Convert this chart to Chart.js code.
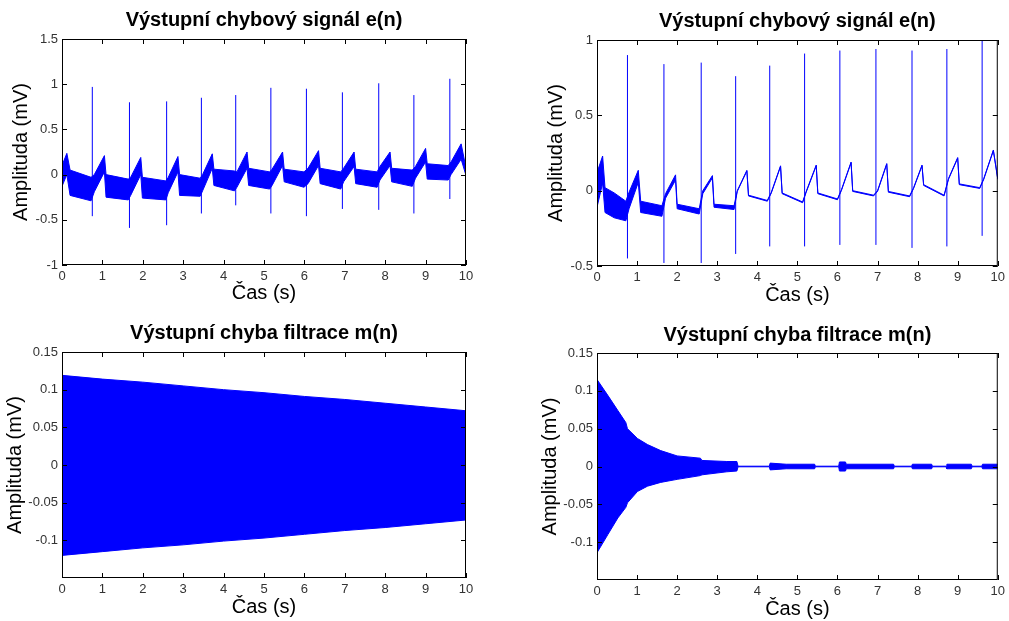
<!DOCTYPE html>
<html>
<head>
<meta charset="utf-8">
<script src="https://cdn.jsdelivr.net/npm/chart.js@4.4.0/dist/chart.umd.min.js"></script>
<style>
  body { margin: 0; background: #fff; overflow: hidden; }
  canvas { position: absolute; }
</style>
</head>
<body>
<canvas id="tl" width="504" height="310" style="left:0;top:0"></canvas>
<canvas id="tr" width="505" height="310" style="left:504px;top:0"></canvas>
<canvas id="bl" width="504" height="311" style="left:0;top:310px"></canvas>
<canvas id="br" width="505" height="311" style="left:504px;top:310px"></canvas>
<script>
// tick labels
var xTicks = [0, 1, 2, 3, 4, 5, 6, 7, 8, 9, 10];
var tlYTicks = [-1, -0.5, 0, 0.5, 1, 1.5];
var trYTicks = [-0.5, 0, 0.5, 1];
var mYTicks = [-0.1, -0.05, 0, 0.05, 0.1, 0.15];

// top left: e(n), noisy band + QRS spikes
var tlTime  = [0, 0.12, 0.20, 0.72, 0.80, 1.05, 1.09, 1.64, 1.70, 1.95, 1.99, 2.57, 2.63, 2.87, 2.91, 3.42, 3.48, 3.72, 3.76, 4.27, 4.33, 4.58, 4.62, 5.14, 5.20, 5.46, 5.50, 5.99, 6.09, 6.35, 6.39, 6.90, 6.97, 7.23, 7.27, 7.80, 7.87, 8.12, 8.16, 8.67, 8.75, 9.00, 9.04, 9.56, 9.63, 9.88, 10];
var tlUpper = [0.10, 0.235, 0.05, -0.03, 0.00, 0.21, 0.00, -0.05, -0.03, 0.19, -0.03, -0.07, -0.03, 0.20, 0.00, -0.04, 0.00, 0.23, 0.06, 0.04, 0.03, 0.25, 0.07, 0.03, 0.06, 0.25, 0.06, 0.03, 0.07, 0.265, 0.07, 0.03, 0.07, 0.25, 0.06, 0.03, 0.09, 0.25, 0.07, 0.05, 0.09, 0.29, 0.12, 0.10, 0.14, 0.34, 0.07];
var tlLower = [-0.13, 0.00, -0.23, -0.29, -0.19, 0.03, -0.25, -0.28, -0.23, 0.00, -0.26, -0.28, -0.20, 0.03, -0.23, -0.24, -0.18, 0.07, -0.12, -0.18, -0.14, 0.07, -0.12, -0.16, -0.12, 0.10, -0.08, -0.14, -0.10, 0.10, -0.10, -0.16, -0.08, 0.09, -0.10, -0.14, -0.06, 0.10, -0.08, -0.13, -0.04, 0.14, -0.05, -0.06, 0.00, 0.17, -0.01];
var tlSpikeTime = [0.75, 1.67, 2.59, 3.45, 4.30, 5.17, 6.05, 6.94, 7.84, 8.71, 9.60];
var tlSpikeHigh = [0.97, 0.80, 0.81, 0.85, 0.88, 0.96, 0.95, 0.91, 1.01, 0.88, 1.06];
var tlSpikeLow  = [-0.46, -0.59, -0.56, -0.43, -0.34, -0.43, -0.46, -0.38, -0.39, -0.43, -0.27];

// top right: e(n), band narrows to a clean ECG line
var trTime  = [0, 0.14, 0.20, 0.43, 0.72, 0.80, 1.03, 1.09, 1.62, 1.71, 1.96, 2.00, 2.55, 2.64, 2.88, 2.92, 3.42, 3.50, 3.74, 3.78, 4.25, 4.35, 4.58, 4.62, 5.13, 5.22, 5.47, 5.51, 6.00, 6.10, 6.34, 6.38, 6.90, 7.00, 7.23, 7.27, 7.80, 7.90, 8.11, 8.15, 8.66, 8.77, 9.00, 9.04, 9.55, 9.65, 9.89, 10];
var trUpper = [0.12, 0.23, 0.02, -0.015, -0.07, -0.01, 0.135, -0.07, -0.10, -0.02, 0.105, -0.09, -0.12, 0.00, 0.10, -0.09, -0.10, 0.00, 0.135, -0.03, -0.065, -0.01, 0.165, -0.015, -0.075, -0.005, 0.17, -0.015, -0.055, 0.007, 0.19, 0.00, -0.03, 0.00, 0.18, -0.005, -0.035, 0.02, 0.17, 0.04, -0.03, 0.08, 0.22, 0.045, 0.02, 0.08, 0.27, 0.08];
var trLower = [-0.11, 0.05, -0.145, -0.18, -0.20, -0.12, 0.055, -0.145, -0.17, -0.05, 0.07, -0.12, -0.155, -0.02, 0.085, -0.11, -0.125, -0.005, 0.13, -0.035, -0.07, -0.015, 0.16, -0.02, -0.08, -0.01, 0.165, -0.02, -0.06, 0.002, 0.185, -0.005, -0.035, -0.005, 0.175, -0.01, -0.04, 0.015, 0.165, 0.035, -0.035, 0.075, 0.215, 0.04, 0.015, 0.075, 0.265, 0.075];
var trSpikeTime = [0.76, 1.67, 2.60, 3.46, 4.31, 5.18, 6.06, 6.96, 7.86, 8.73, 9.61];
var trSpikeHigh = [0.90, 0.84, 0.85, 0.76, 0.83, 0.91, 0.93, 0.94, 0.93, 0.94, 1.00];
var trSpikeLow  = [-0.45, -0.48, -0.48, -0.42, -0.37, -0.37, -0.36, -0.36, -0.38, -0.37, -0.30];

// bottom left: m(n), slowly shrinking envelope
var blTime  = [0, 1, 2, 3, 4, 5, 6, 7, 8, 9, 10];
var blUpper = [0.119, 0.114, 0.110, 0.105, 0.100, 0.096, 0.091, 0.087, 0.082, 0.077, 0.072];
var blLower = [-0.120, -0.115, -0.110, -0.106, -0.101, -0.097, -0.092, -0.087, -0.083, -0.078, -0.073];

// bottom right: m(n), fast decay then small bursts
var brTime  = [0, 0.27, 0.52, 0.72, 0.76, 1.01, 1.26, 1.59, 2.0, 2.58, 2.62, 3.24, 3.49, 3.52, 4.30, 4.32, 4.72, 5.43, 5.45, 6.03, 6.05, 6.20, 6.22, 7.40, 7.42, 7.85, 7.87, 8.35, 8.37, 8.71, 8.73, 9.34, 9.36, 9.60, 9.62, 10];
var brUpper = [0.115, 0.094, 0.074, 0.058, 0.050, 0.037, 0.029, 0.021, 0.014, 0.011, 0.008, 0.0066, 0.0066, 0.0004, 0.0004, 0.0045, 0.003, 0.003, 0.0004, 0.0004, 0.006, 0.006, 0.003, 0.003, 0.0004, 0.0004, 0.003, 0.003, 0.0004, 0.0004, 0.003, 0.003, 0.0004, 0.0004, 0.003, 0.003];
var brLower = [-0.114, -0.090, -0.068, -0.054, -0.048, -0.033, -0.026, -0.021, -0.017, -0.012, -0.011, -0.007, -0.006, -0.0004, -0.0004, -0.0045, -0.003, -0.003, -0.0004, -0.0004, -0.006, -0.006, -0.003, -0.003, -0.0004, -0.0004, -0.003, -0.003, -0.0004, -0.0004, -0.003, -0.003, -0.0004, -0.0004, -0.003, -0.003];

var FONT = "'Liberation Sans', Arial, sans-serif";
var BLUE = '#0000ff';

function pts(t, v) {
  return t.map(function(x, i) { return {x: x, y: v[i]}; });
}

function spikePts(t, hi, lo) {
  var out = [];
  for (var i = 0; i < t.length; i++) {
    out.push({x: t[i], y: lo[i]}, {x: t[i], y: hi[i]}, {x: t[i], y: null});
  }
  return out;
}

function bandSets(t, up, lo) {
  return [
    {data: pts(t, up), borderColor: BLUE, backgroundColor: BLUE, fill: '+1'},
    {data: pts(t, lo), borderColor: BLUE, fill: false}
  ];
}

// box around the plot with inward tick marks on all four sides
var boxPlugin = {
  id: 'box',
  afterDatasetsDraw: function(chart) {
    var ctx = chart.ctx, a = chart.chartArea, sx = chart.scales.x, sy = chart.scales.y;
    ctx.save();
    ctx.strokeStyle = '#000';
    ctx.lineWidth = 1;
    ctx.strokeRect(a.left + 0.5, a.top + 0.5, a.right - a.left - 1, a.bottom - a.top - 1);
    ctx.beginPath();
    sx.ticks.forEach(function(tk) {
      var px = Math.round(sx.getPixelForValue(tk.value)) + 0.5;
      ctx.moveTo(px, a.bottom); ctx.lineTo(px, a.bottom - 5);
      ctx.moveTo(px, a.top); ctx.lineTo(px, a.top + 5);
    });
    sy.ticks.forEach(function(tk) {
      var py = Math.round(sy.getPixelForValue(tk.value)) + 0.5;
      ctx.moveTo(a.left, py); ctx.lineTo(a.left + 5, py);
      ctx.moveTo(a.right, py); ctx.lineTo(a.right - 5, py);
    });
    ctx.stroke();
    ctx.restore();
  }
};

function makePanel(id, p) {
  new Chart(document.getElementById(id), {
    type: 'line',
    data: {datasets: p.datasets},
    options: {
      responsive: false,
      animation: false,
      layout: {padding: {left: 0, top: 0, bottom: 0, right: p.padRight}},
      elements: {point: {radius: 0}, line: {borderWidth: 1, tension: 0}},
      plugins: {
        legend: {display: false},
        tooltip: {enabled: false},
        title: {
          display: true, text: p.title, fullSize: false, color: '#000',
          font: {family: FONT, size: 20, weight: 'bold'},
          padding: {top: p.titleTop, bottom: p.titleBottom}
        }
      },
      scales: {
        x: {
          type: 'linear', min: 0, max: 10,
          afterBuildTicks: function(s) { s.ticks = xTicks.map(function(v) { return {value: v}; }); },
          afterFit: function(s) { s.height = p.xHeight; },
          grid: {display: false, drawTicks: false},
          border: {display: false},
          ticks: {color: '#333', padding: 4, font: {family: FONT, size: 13}, maxRotation: 0,
                  callback: function(v) { return String(v); }},
          title: {display: true, text: 'Čas (s)', color: '#000', font: {family: FONT, size: 20},
                  padding: {top: 0, bottom: p.xTitlePad}}
        },
        y: {
          type: 'linear', min: p.yMin, max: p.yMax,
          afterBuildTicks: function(s) { s.ticks = p.yTicks.map(function(v) { return {value: v}; }); },
          afterFit: function(s) { s.width = p.yWidth; },
          grid: {display: false, drawTicks: false},
          border: {display: false},
          ticks: {color: '#333', padding: 4, font: {family: FONT, size: 13},
                  callback: function(v) { return String(v); }},
          title: {display: true, text: 'Amplituda (mV)', color: '#000', font: {family: FONT, size: 20},
                  padding: {top: p.yTitlePad, bottom: 0}}
        }
      }
    },
    plugins: [boxPlugin]
  });
}

makePanel('tl', {
  title: 'Výstupní chybový signál e(n)', titleTop: 8.5, titleBottom: 6.5,
  padRight: 38, xHeight: 45, yWidth: 62, xTitlePad: 5, yTitlePad: 9.7,
  yMin: -1, yMax: 1.5, yTicks: tlYTicks,
  datasets: bandSets(tlTime, tlUpper, tlLower).concat([
    {data: spikePts(tlSpikeTime, tlSpikeHigh, tlSpikeLow), borderColor: BLUE, fill: false, spanGaps: false}
  ])
});

makePanel('tr', {
  title: 'Výstupní chybový signál e(n)', titleTop: 9.1, titleBottom: 6.9,
  padRight: 7, xHeight: 44, yWidth: 93, xTitlePad: 3, yTitlePad: 40.7,
  yMin: -0.5, yMax: 1, yTicks: trYTicks,
  datasets: bandSets(trTime, trUpper, trLower).concat([
    {data: spikePts(trSpikeTime, trSpikeHigh, trSpikeLow), borderColor: BLUE, fill: false, spanGaps: false}
  ])
});

makePanel('bl', {
  title: 'Výstupní chyba filtrace m(n)', titleTop: 11.8, titleBottom: 6.2,
  padRight: 38, xHeight: 43, yWidth: 62, xTitlePad: 1.3, yTitlePad: 3.1,
  yMin: -0.15, yMax: 0.15, yTicks: mYTicks,
  datasets: bandSets(blTime, blUpper, blLower)
});

makePanel('br', {
  title: 'Výstupní chyba filtrace m(n)', titleTop: 13.8, titleBottom: 5.2,
  padRight: 7, xHeight: 41, yWidth: 93, xTitlePad: 0, yTitlePad: 34.1,
  yMin: -0.15, yMax: 0.15, yTicks: mYTicks,
  datasets: bandSets(brTime, brUpper, brLower)
});
</script>
</body>
</html>
